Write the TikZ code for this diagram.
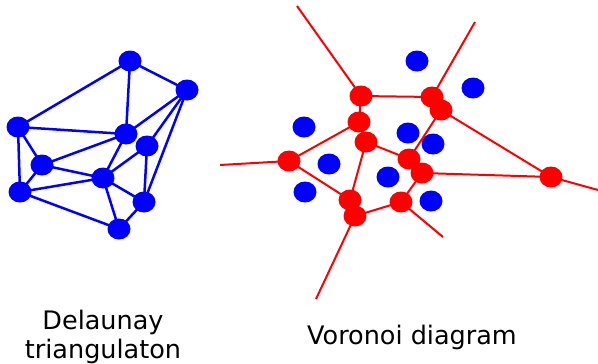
\documentclass[tikz,border=0pt]{standalone}
\usepackage{fontspec}
\setmainfont{DejaVu Sans}
\usetikzlibrary{shapes.geometric}
\begin{document}
\begin{tikzpicture}[x=1pt,y=-1pt,
  bdot/.style={ellipse,fill=blue,draw=none,minimum width=23pt,minimum height=21pt,inner sep=0pt},
  rdot/.style={ellipse,fill=red,draw=none,minimum width=23pt,minimum height=21pt,inner sep=0pt},
  bedge/.style={draw=blue,line width=2.5pt},
  redge/.style={draw=red,line width=2pt},
  lbl/.style={font=\fontsize{25.5}{29}\selectfont,align=center,inner sep=0pt}]
\useasboundingbox (0,0) rectangle (598,364);
% Delaunay
\coordinate (A) at (130,61);
\coordinate (B) at (187,90);
\coordinate (C) at (18,127);
\coordinate (D) at (126,134);
\coordinate (E) at (147,146);
\coordinate (F) at (42,165);
\coordinate (G) at (103,178);
\coordinate (H) at (20,192);
\coordinate (I) at (144,202);
\coordinate (J) at (119,229);
\foreach \a/\b in {A/B,A/C,A/D,B/D,B/E,B/I,C/D,C/F,C/H,D/F,D/G,E/G,E/I,F/G,F/H,G/H,G/I,G/J,H/J,I/J}
  \draw[bedge] (\a) -- (\b);
\foreach \n in {A,B,C,D,E,F,G,H,I,J}
  \node[bdot] (n\n) at (\n) {};
% Voronoi sites
\node[bdot] (s1) at (417,61) {};
\node[bdot] (s2) at (473,88) {};
\node[bdot] (s3) at (304,127) {};
\node[bdot] (s4) at (408,133) {};
\node[bdot] (s5) at (433,144) {};
\node[bdot] (s6) at (329,164) {};
\node[bdot] (s7) at (388,177) {};
\node[bdot] (s8) at (305,192) {};
\node[bdot] (s9) at (431,201) {};
% Voronoi vertices
\coordinate (R1) at (361,96);
\coordinate (R2) at (432,97);
\coordinate (R3) at (441,110);
\coordinate (R4) at (359,122);
\coordinate (R5) at (366,142);
\coordinate (R6) at (289,161);
\coordinate (R7) at (409,159);
\coordinate (R8) at (422,173);
\coordinate (R9) at (551,177);
\coordinate (R10) at (350,200);
\coordinate (R11) at (355,216);
\coordinate (R12) at (401,202);
\coordinate (e1) at (297,6);
\coordinate (e2) at (475,22);
\coordinate (e3) at (220,165);
\coordinate (e4) at (598,190);
\coordinate (e5) at (443,237);
\coordinate (e6) at (316,299);
\foreach \a/\b in {e1/R1,R1/R2,R2/e2,R2/R3,R1/R4,R4/R5,R4/R6,R6/e3,R6/R10,R5/R7,R5/R10,R10/R11,R3/R7,R7/R8,R3/R9,R8/R9,R9/e4,R8/R12,R12/R11,R12/e5,R11/e6}
  \draw[redge] (\a) -- (\b);
\foreach \n in {R1,R2,R3,R4,R5,R6,R7,R8,R9,R10,R11,R12}
  \node[rdot] (v\n) at (\n) {};
% labels
\node[lbl] (t1) at (103,337) {Delaunay\\triangulaton};
\node[lbl] (t2) at (412,337) {Voronoi diagram};
\end{tikzpicture}
\end{document}
